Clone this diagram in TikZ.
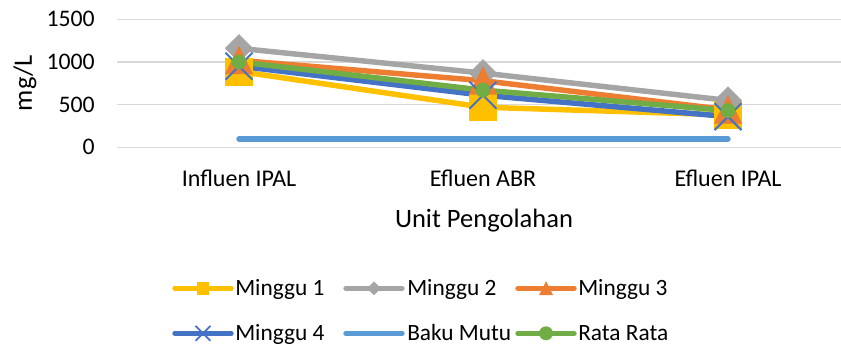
\documentclass[tikz,border=0pt]{standalone}
\usepackage{fontspec}
\setmainfont{Carlito}
\definecolor{cyel}{HTML}{FFC000}
\definecolor{cgray}{HTML}{A5A5A5}
\definecolor{cora}{HTML}{ED7D31}
\definecolor{cblue}{HTML}{4472C4}
\definecolor{clblue}{HTML}{5B9BD5}
\definecolor{cgreen}{HTML}{70AD47}
\definecolor{cgrid}{HTML}{D9D9D9}
\tikzset{
  gridline/.style={draw=cgrid, line width=1pt},
  serline/.style={line width=4.1pt, line cap=round, line join=round},
  ticklab/.style={font=\fontsize{17.8}{20}\selectfont, inner sep=0pt, anchor=east},
  catlab/.style={font=\fontsize{18}{21}\selectfont, inner sep=0pt, anchor=base},
  axtitle/.style={font=\fontsize{19.9}{23}\selectfont, inner sep=0pt},
  leglab/.style={font=\fontsize{17.5}{20}\selectfont, inner sep=0pt, anchor=base west},
  sqm/.pic={\path[pic actions] (-13.5,-13.5) rectangle (13.5,13.5);},
  diam/.pic={\path[pic actions] (0,-13.5) -- (13.5,0) -- (0,13.5) -- (-13.5,0) -- cycle;},
  trim/.pic={\path[pic actions] (-13.5,13.5) -- (13.5,13.5) -- (0,-13.5) -- cycle;},
  xm/.pic={\path[pic actions] (-13.5,-13.5) -- (13.5,13.5) (-13.5,13.5) -- (13.5,-13.5);},
  circm/.pic={\path[pic actions] (0,0) circle[radius=7];}
}
\begin{document}
\begin{tikzpicture}[x=0.75pt,y=-0.75pt]
\useasboundingbox (0,0) rectangle (841,347);
% grid
\coordinate (g0a) at (117,147.3); \coordinate (g0b) at (841,147.3);
\coordinate (g1a) at (117,104.6); \coordinate (g1b) at (841,104.6);
\coordinate (g2a) at (117,62.0);  \coordinate (g2b) at (841,62.0);
\coordinate (g3a) at (117,19.3);  \coordinate (g3b) at (841,19.3);
\draw[gridline] (g0a) -- (g0b);
\draw[gridline] (g1a) -- (g1b);
\draw[gridline] (g2a) -- (g2b);
\draw[gridline] (g3a) -- (g3b);
% tick labels
\node[ticklab] (t0) at (95,147.3) {0};
\node[ticklab] (t1) at (95,104.6) {500};
\node[ticklab] (t2) at (95,62.0) {1000};
\node[ticklab] (t3) at (95,19.3) {1500};
% category labels
\node[catlab] (c1) at (239,186.7) {Influen IPAL};
\node[catlab] (c2) at (483,186.7) {Efluen ABR};
\node[catlab] (c3) at (728,186.7) {Efluen IPAL};
\node[axtitle, anchor=base] (xt) at (484,227) {Unit Pengolahan};
\node[axtitle, rotate=90] (yt) at (25,83) {mg/L};
% data points
\coordinate (m1a) at (239,71.4);  \coordinate (m1b) at (483,107.2); \coordinate (m1c) at (728,114.9);
\coordinate (m2a) at (239,48.3);  \coordinate (m2b) at (483,73.1);  \coordinate (m2c) at (728,100.4);
\coordinate (m3a) at (239,60.3);  \coordinate (m3b) at (483,80.7);  \coordinate (m3c) at (728,109.8);
\coordinate (m4a) at (239,66.2);  \coordinate (m4b) at (483,95.2);  \coordinate (m4c) at (728,116.6);
\coordinate (bma) at (239,138.8); \coordinate (bmb) at (483,138.8); \coordinate (bmc) at (728,138.8);
\coordinate (rra) at (239,62.0);  \coordinate (rrb) at (483,90.1);  \coordinate (rrc) at (728,110.6);
% lines
\draw[serline, cyel]   (m1a) -- (m1b) -- (m1c);
\draw[serline, cgray]  (m2a) -- (m2b) -- (m2c);
\draw[serline, cora]   (m3a) -- (m3b) -- (m3c);
\draw[serline, cblue]  (m4a) -- (m4b) -- (m4c);
\draw[serline, clblue] (bma) -- (bmb) -- (bmc);
\draw[serline, cgreen] (rra) -- (rrb) -- (rrc);
% markers
\foreach \p in {m1a,m1b,m1c} \pic[fill=cyel, draw=cyel, line width=0.6pt] at (\p) {sqm};
\foreach \p in {m2a,m2b,m2c} \pic[fill=cgray, draw=cgray, line width=0.6pt] at (\p) {diam};
\foreach \p in {m3a,m3b,m3c} \pic[fill=cora, draw=cora, line width=0.6pt] at (\p) {trim};
\foreach \p in {m4a,m4b,m4c} \pic[draw=cblue, line width=1.5pt] at (\p) {xm};
\foreach \p in {rra,rrb,rrc} \pic[fill=cgreen, draw=cgreen, line width=0.6pt] at (\p) {circm};
% legend row 1
\coordinate (l1a) at (175,288.3); \coordinate (l1b) at (231,288.3); \coordinate (l1m) at (203,288.3);
\coordinate (l2a) at (346,288.3); \coordinate (l2b) at (402,288.3); \coordinate (l2m) at (374,288.3);
\coordinate (l3a) at (518,288.3); \coordinate (l3b) at (574,288.3); \coordinate (l3m) at (546,288.3);
\coordinate (l4a) at (175,333.3); \coordinate (l4b) at (231,333.3); \coordinate (l4m) at (203,333.3);
\coordinate (l5a) at (346,333.3); \coordinate (l5b) at (402,333.3);
\coordinate (l6a) at (518,333.3); \coordinate (l6b) at (574,333.3); \coordinate (l6m) at (546,333.3);
\draw[serline, cyel]   (l1a) -- (l1b);
\draw[serline, cgray]  (l2a) -- (l2b);
\draw[serline, cora]   (l3a) -- (l3b);
\draw[serline, cblue]  (l4a) -- (l4b);
\draw[serline, clblue] (l5a) -- (l5b);
\draw[serline, cgreen] (l6a) -- (l6b);
\pic[fill=cyel, draw=cyel, scale=0.42] at (l1m) {sqm};
\pic[fill=cgray, draw=cgray, scale=0.48] at (l2m) {diam};
\pic[fill=cora, draw=cora, scale=0.48] at (l3m) {trim};
\pic[draw=cblue, line width=1.3pt, scale=0.55] at (l4m) {xm};
\pic[fill=cgreen, draw=cgreen, scale=0.95] at (l6m) {circm};
\node[leglab] (lt1) at (235,295) {Minggu 1};
\node[leglab] (lt2) at (407,295) {Minggu 2};
\node[leglab] (lt3) at (578,295) {Minggu 3};
\node[leglab] (lt4) at (235,340) {Minggu 4};
\node[leglab] (lt5) at (407,340) {Baku Mutu};
\node[leglab] (lt6) at (578,340) {Rata Rata};
\end{tikzpicture}
\end{document}
